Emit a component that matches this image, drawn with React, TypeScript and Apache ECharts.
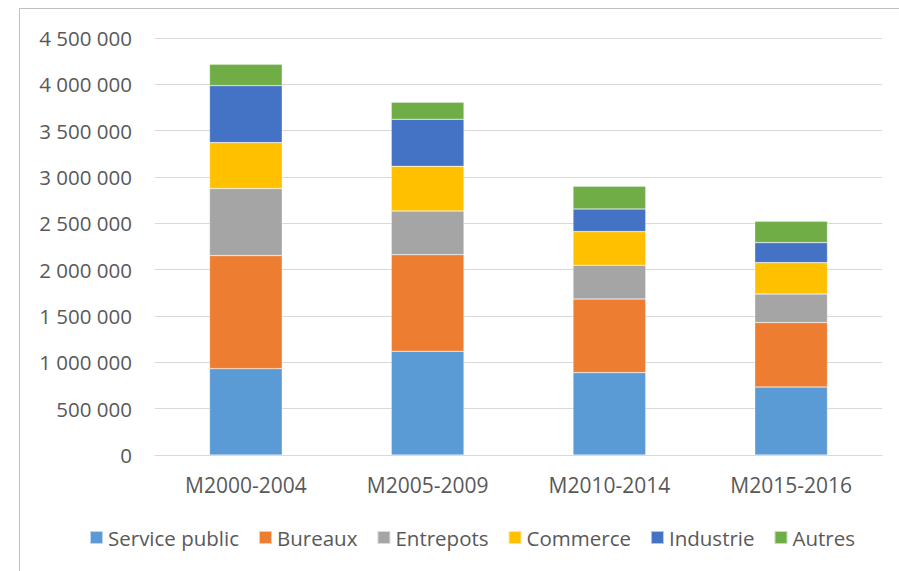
import React, { useEffect, useRef } from "react";
import * as echarts from "echarts";

const categories = ["M2000-2004", "M2005-2009", "M2010-2014", "M2015-2016"];
const seriesNames = ["Service public", "Bureaux", "Entrepots", "Commerce", "Industrie", "Autres"];
const servicePublic = [932000, 1119000, 889000, 734000];
const bureaux = [1220000, 1043000, 795000, 695000];
const entrepots = [723000, 471000, 363000, 308000];
const commerce = [496000, 482000, 364000, 339000];
const industrie = [615000, 508000, 244000, 216000];
const autres = [230000, 183000, 245000, 230000];
const colors = ["#5B9BD5", "#ED7D31", "#A5A5A5", "#FFC000", "#4472C4", "#70AD47"];
const values = [servicePublic, bureaux, entrepots, commerce, industrie, autres];

const FONT = "'Open Sans', sans-serif";
const TEXT = "#595959";

function fmt(v: number): string {
  return String(v).replace(/\B(?=(\d{3})+(?!\d))/g, " ");
}

export default function App() {
  const ref = useRef<HTMLDivElement>(null);
  useEffect(() => {
    if (!ref.current) return;
    const chart = echarts.init(ref.current, undefined, { renderer: "svg" });
    chart.setOption({
      animation: false,
      backgroundColor: "#ffffff",
      textStyle: { fontFamily: FONT },
      grid: { left: 155, right: 17, top: 38, bottom: 116, containLabel: false },
      legend: {
        data: seriesNames,
        left: 84,
        top: 522,
        itemWidth: 13,
        itemHeight: 13,
        itemGap: 19,
        icon: "rect",
        textStyle: { fontFamily: FONT, fontSize: 20.5, color: TEXT },
      },
      xAxis: {
        type: "category",
        data: categories,
        axisLine: { lineStyle: { color: "#D9D9D9", width: 1 } },
        axisTick: { show: false },
        axisLabel: { fontFamily: FONT, fontSize: 21, color: TEXT, margin: 19 },
      },
      yAxis: {
        type: "value",
        min: 0,
        max: 4500000,
        interval: 500000,
        axisLine: { show: false },
        axisTick: { show: false },
        splitLine: { lineStyle: { color: "#D9D9D9", width: 1 } },
        axisLabel: {
          fontFamily: FONT,
          fontSize: 20.5,
          color: TEXT,
          margin: 23,
          formatter: (v: number) => fmt(v),
        },
      },
      series: seriesNames.map((name, i) => ({
        name,
        type: "bar",
        stack: "total",
        data: values[i],
        barCategoryGap: "60%",
        itemStyle: { color: colors[i], borderColor: "rgba(255,255,255,0.6)", borderWidth: 0.5 },
      })),
      graphic: [
        {
          type: "line",
          shape: { x1: 19.5, y1: 8.5, x2: 899, y2: 8.5 },
          style: { stroke: "#BFBFBF", lineWidth: 1 },
        },
        {
          type: "line",
          shape: { x1: 19.5, y1: 8.5, x2: 19.5, y2: 571 },
          style: { stroke: "#BFBFBF", lineWidth: 1 },
        },
      ],
    });
    return () => chart.dispose();
  }, []);
  return (
    <div
      ref={ref}
      style={{ position: "fixed", left: 0, top: 0, width: 899, height: 571, background: "#fff" }}
    />
  );
}
